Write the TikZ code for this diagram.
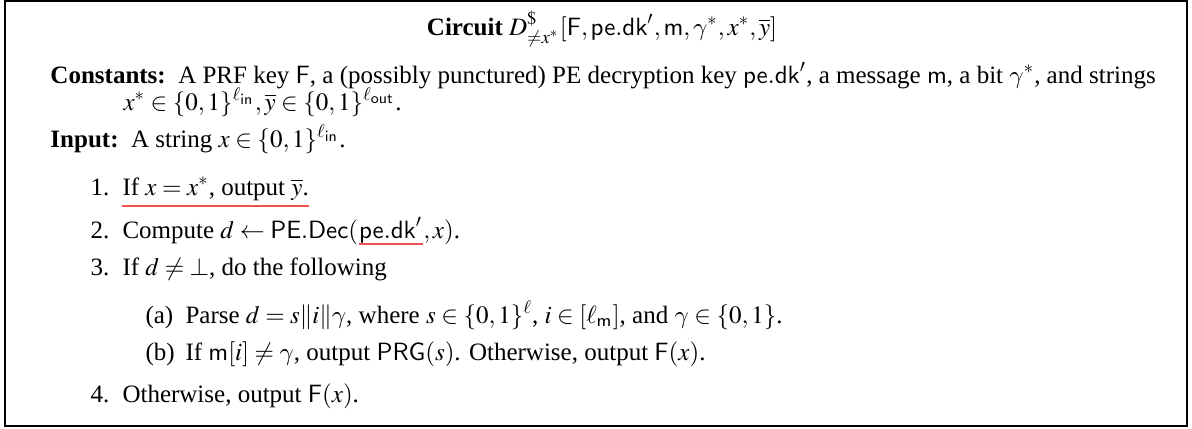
\documentclass[tikz,border=0pt]{standalone}
\usepackage{mathptmx}
\usepackage{fontspec}
\setmainfont{Liberation Serif}
\usetikzlibrary{positioning}

% computer modern gamma instead of the Symbol one
\DeclareSymbolFont{cmletters}{OML}{cmm}{m}{it}
\DeclareMathSymbol{\gamma}{\mathord}{cmletters}{"0D}

\definecolor{ulred}{RGB}{240,80,80}
\newcommand{\sfn}[1]{\mathsf{#1}}

\begin{document}
\begin{tikzpicture}[x=0.4pt, y=-0.4pt,
        txt/.style = {anchor=base west, inner sep=0pt},
        uline/.style = {draw=ulred, line width=0.7pt}]
    \useasboundingbox (0,0) rectangle (1192,428);
    \draw [line width=0.5pt] (5,1) rectangle (1187,426);

    % heading and the two header rows
    \node (title) [anchor=base, inner sep=0pt] at (602,35)
        {\textbf{Circuit} $D^{\$}_{\neq x^*}[\sfn{F},\sfn{pe.dk}',\sfn{m},\gamma^*,x^*,\overline{y}]$};
    \node (const) [txt] at (50,83)
        {\textbf{Constants:}\ \ A PRF key $\sfn{F}$, a (possibly punctured) PE decryption key $\sfn{pe.dk}'$, a message $\sfn{m}$, a bit $\gamma^*$, and strings};
    \node (cont) [txt] at (123,110)
        {$x^*\in\{0,1\}^{\ell_{\sfn{in}}},\overline{y}\in\{0,1\}^{\ell_{\sfn{out}}}$.};
    \node (inp) [txt] at (50,147)
        {\textbf{Input:}\ \ A string $x\in\{0,1\}^{\ell_{\sfn{in}}}$.};

    % steps
    \node (n1) [txt] at (90,195) {1.};
    \node (s1) [txt] at (122,195) {If $x = x^*$, output $\overline{y}$.};
    \node (n2) [txt] at (90,238) {2.};
    \node (s2) [txt] at (122,238) {Compute $d \leftarrow \sfn{PE.Dec}($};
    \node (dk) [txt] at (s2.base east) {$\sfn{pe.dk}'$};
    \node (s2b) [txt] at (dk.base east) {$, x)$.};
    \node (n3) [txt] at (90,275) {3.};
    \node (s3) [txt] at (122,275) {If $d \neq \bot$, do the following};
    \node (na) [txt] at (145,323) {(a)};
    \node (sa) [txt] at (185,323)
        {Parse $d = s\|i\|\gamma$, where $s\in\{0,1\}^{\ell}$, $i\in[\ell_{\sfn{m}}]$, and $\gamma\in\{0,1\}$.};
    \node (nb) [txt] at (145,360) {(b)};
    \node (sb) [txt] at (185,360)
        {If $\sfn{m}[i]\neq\gamma$, output $\sfn{PRG}(s)$. Otherwise, output $\sfn{F}(x)$.};
    \node (n4) [txt] at (90,402) {4.};
    \node (s4) [txt] at (122,402) {Otherwise, output $\sfn{F}(x)$.};

    % red underlines
    \draw [uline] ([yshift=-4.4pt]s1.base west) -- ([yshift=-4.4pt]s1.base east);
    \draw [uline] ([yshift=-2.4pt]dk.base west) -- ([yshift=-2.4pt]dk.base east);
\end{tikzpicture}
\end{document}
